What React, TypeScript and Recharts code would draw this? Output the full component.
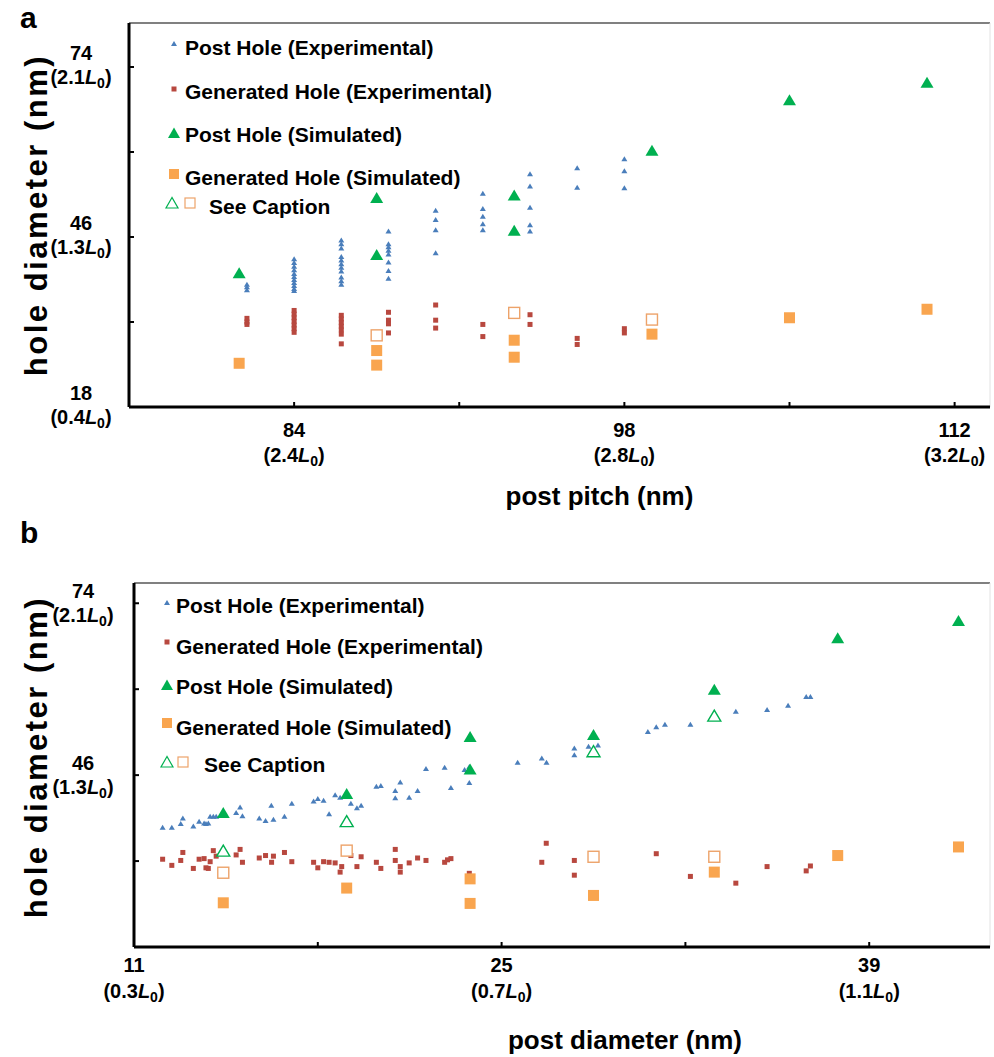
import React from "react";
import { ScatterChart, Scatter, XAxis, YAxis, ReferenceLine, Legend } from "recharts";

const FONT = '"Liberation Sans", Arial, Helvetica, sans-serif';

const SERIES = [
  "Post Hole (Experimental)",
  "Generated Hole (Experimental)",
  "Post Hole (Simulated)",
  "Generated Hole (Simulated)",
  "See Caption",
];

// axis ticks; labelled ones get a second line in units of L0
const pitchTicks = [84, 91, 98, 105, 112];
const pitchL0: Record<number, string> = { 84: "2.4", 98: "2.8", 112: "3.2" };
const postDiamTicks = [11, 18, 25, 32, 39];
const postDiamL0: Record<number, string> = { 11: "0.3", 25: "0.7", 39: "1.1" };
const holeTicks = [18, 32, 46, 60, 74];
const holeL0a: Record<number, string> = { 18: "0.4", 46: "1.3", 74: "2.1" };
const holeL0b: Record<number, string> = { 46: "1.3", 74: "2.1" };

// ---- panel a : post pitch (nm) vs hole diameter (nm)
const aPostExp: [number, number][] = [
  [82, 38.2], [82, 37.8], [82, 37.3],
  [84, 42.4], [84, 41.8], [84, 41.2], [84, 40.6], [84, 40.0], [84, 39.5], [84, 39.0], [84, 38.5], [84, 38.0], [84, 37.5], [84, 37.2],
  [86, 45.5], [86, 44.9], [86, 44.2], [86, 42.8], [86, 42.2], [86, 41.6], [86, 41.0], [86, 40.4], [86, 39.4], [86, 38.8], [86, 38.2],
  [88, 47.0], [88, 44.9], [88, 44.4], [88, 43.8], [88, 43.2], [88, 41.9], [88, 40.5], [88, 39.2],
  [90, 50.4], [90, 48.9], [90, 47.2], [90, 43.4],
  [92, 53.2], [92, 50.7], [92, 49.4], [92, 48.2], [92, 47.2],
  [94, 56.4], [94, 54.4], [94, 50.9], [94, 48.0], [94, 47.0],
  [96, 57.4], [96, 54.2],
  [98, 58.9], [98, 56.9], [98, 54.1],
];
const aGenExp: [number, number][] = [
  [82, 32.6], [82, 32.0], [82, 31.6],
  [84, 33.9], [84, 33.3], [84, 32.7], [84, 32.1], [84, 31.5], [84, 30.9], [84, 30.3],
  [86, 33.1], [86, 32.5], [86, 31.9], [86, 31.3], [86, 30.7], [86, 30.0], [86, 28.4],
  [88, 33.6], [88, 32.3], [88, 31.7], [88, 30.2],
  [90, 34.8], [90, 32.3], [90, 31.0],
  [92, 31.6], [92, 29.6],
  [94, 33.2], [94, 31.6],
  [96, 29.3], [96, 28.3],
  [98, 30.9], [98, 30.2],
];
const aPostSim: [number, number][] = [
  [81.67, 40.1], [87.5, 52.5], [87.5, 43.1], [93.33, 52.9], [93.33, 47.1], [99.17, 60.3], [105, 68.6], [110.83, 71.5],
];
const aGenSim: [number, number][] = [
  [81.67, 25.2], [87.5, 27.3], [87.5, 24.9], [93.33, 29.0], [93.33, 26.2], [99.17, 30.0], [105, 32.7], [110.83, 34.1],
];
const aGenCaption: [number, number][] = [[87.5, 29.8], [93.33, 33.5], [99.17, 32.4]];

// ---- panel b : post diameter (nm) vs hole diameter (nm)
const bPostExp: [number, number][] = [
  [12.09, 37.5], [12.44, 37.5], [12.78, 38.1], [12.86, 39.0], [13.26, 37.7], [13.48, 38.5], [13.67, 38.2], [13.74, 38.1],
  [13.83, 38.2], [13.9, 39.3], [14.02, 39.3], [14.13, 39.3], [14.89, 39.9], [15.04, 40.8], [15.13, 39.4], [15.77, 39.0],
  [16.01, 38.6], [16.31, 38.8], [16.73, 39.3], [16.23, 41.1], [17.01, 41.4], [17.84, 41.8], [18.0, 42.2], [18.22, 41.9],
  [18.43, 39.7], [18.66, 42.8], [18.85, 42.4], [19.26, 41.4], [19.49, 40.7], [19.65, 41.1], [20.23, 44.2], [20.4, 44.3],
  [20.95, 43.5], [21.14, 44.9], [20.95, 42.3], [21.48, 42.4], [21.8, 43.5], [22.12, 47.1], [22.83, 47.3], [23.07, 44.0],
  [23.59, 46.9], [23.77, 44.8], [23.77, 47.4], [25.61, 48.1], [26.53, 48.8], [26.71, 48.1], [27.77, 50.4], [27.77, 49.3],
  [28.31, 50.7], [28.67, 50.9], [30.57, 53.1], [30.89, 53.9], [31.22, 54.3], [32.19, 54.3], [33.92, 56.4], [35.11, 56.7],
  [35.91, 57.4], [36.6, 58.8], [36.76, 58.8],
];
const bGenExp: [number, number][] = [
  [12.09, 32.3], [12.44, 31.3], [12.78, 32.1], [12.86, 33.4], [13.26, 30.8], [13.48, 32.3], [13.67, 32.4], [13.74, 30.9],
  [13.83, 30.8], [13.9, 31.9], [14.02, 33.7], [14.13, 32.8], [14.89, 33.0], [15.04, 33.9], [15.13, 31.8], [15.77, 32.5],
  [16.01, 32.9], [16.24, 31.8], [16.31, 32.8], [16.73, 33.4], [17.01, 31.9], [17.84, 31.8], [18.0, 30.9], [18.22, 31.9],
  [18.43, 31.8], [18.66, 31.7], [18.85, 30.2], [18.91, 31.1], [19.26, 32.9], [19.49, 31.1], [19.65, 32.7], [20.23, 31.8],
  [20.4, 30.8], [20.95, 33.9], [20.95, 32.1], [21.14, 31.1], [21.14, 30.2], [21.48, 31.7], [21.8, 32.5], [22.12, 32.1],
  [22.83, 31.8], [22.94, 32.2], [23.07, 32.4], [23.77, 30.0], [26.53, 31.8], [26.7, 34.9], [27.77, 32.1], [27.77, 29.7],
  [30.89, 33.2], [32.19, 29.5], [33.92, 28.4], [35.11, 31.1], [36.6, 30.4], [36.76, 31.2],
];
const bPostSim: [number, number][] = [
  [14.4, 39.9], [19.1, 43.0], [23.8, 52.3], [23.8, 47.0], [28.5, 52.6], [33.1, 60.0], [37.8, 68.4], [42.4, 71.2],
];
const bGenSim: [number, number][] = [
  [14.4, 25.2], [19.1, 27.6], [23.8, 29.1], [23.8, 25.1], [28.5, 26.4], [33.1, 30.2], [37.8, 32.9], [42.4, 34.3],
];
const bPostCaption: [number, number][] = [[14.4, 33.7], [19.1, 38.5], [28.5, 49.9], [33.1, 55.7]];
const bGenCaption: [number, number][] = [[14.4, 30.1], [19.1, 33.7], [28.5, 32.7], [33.1, 32.7]];

const pts = (arr: [number, number][]) => arr.map(([x, y]) => ({ x, y }));

const BLUE = "#4A7EBB";
const RED = "#B8483F";
const GREEN = "#00B050";
const ORANGE = "#F9A54F";
const ORANGE_LINE = "#EDA36A";

const triangle = (w: number, h: number, fill: string, stroke?: string) => (p: any) => {
  const { cx, cy } = p;
  return (
    <polygon
      points={`${cx},${cy - h / 2} ${cx - w / 2},${cy + h / 2} ${cx + w / 2},${cy + h / 2}`}
      fill={fill}
      stroke={stroke || "none"}
      strokeWidth={stroke ? 1.4 : 0}
    />
  );
};
const square = (s: number, fill: string, stroke?: string) => (p: any) => {
  const { cx, cy } = p;
  return (
    <rect
      x={cx - s / 2}
      y={cy - s / 2}
      width={s}
      height={s}
      fill={fill}
      stroke={stroke || "none"}
      strokeWidth={stroke ? 1.4 : 0}
    />
  );
};

const L0 = ({ v }: { v: string }) => (
  <>
    ({v}
    <tspan fontStyle="italic">L</tspan>
    <tspan fontSize={14} dy={4}>0</tspan>
    <tspan dy={-4}>)</tspan>
  </>
);

const TICK_FS = 20;

const XTick = (labels: Record<number, string>, d1: number, d2: number) => (p: any) => {
  const { x, y, payload } = p;
  const lab = labels[payload.value];
  return (
    <g>
      <line x1={x} x2={x} y1={y} y2={y - 5} stroke="#000" strokeWidth={2} />
      {lab && (
        <text x={x} y={y + d1} textAnchor="middle" fontFamily={FONT} fontWeight="bold" fontSize={TICK_FS} fill="#000">
          {payload.value}
        </text>
      )}
      {lab && (
        <text x={x} y={y + d2} textAnchor="middle" fontFamily={FONT} fontWeight="bold" fontSize={TICK_FS} fill="#000">
          <L0 v={lab} />
        </text>
      )}
    </g>
  );
};

const YTick = (labels: Record<number, string>, dx: number, d1: number, d2: number) => (p: any) => {
  const { x, y, payload } = p;
  const lab = labels[payload.value];
  return (
    <g>
      <line x1={x} x2={x + 5} y1={y} y2={y} stroke="#000" strokeWidth={2} />
      {lab && (
        <text x={x - dx} y={y + d1} textAnchor="middle" fontFamily={FONT} fontWeight="bold" fontSize={TICK_FS} fill="#000">
          {payload.value}
        </text>
      )}
      {lab && (
        <text x={x - dx} y={y + d2} textAnchor="middle" fontFamily={FONT} fontWeight="bold" fontSize={TICK_FS} fill="#000">
          <L0 v={lab} />
        </text>
      )}
    </g>
  );
};

const xTitle = (text: string, dx: number, dy: number) => ({
  content: (p: any) => {
    const vb = p.viewBox;
    return (
      <text x={vb.x + vb.width / 2 + dx} y={vb.y + dy} textAnchor="middle" fontFamily={FONT} fontWeight="bold" fontSize={26} fill="#000">
        {text}
      </text>
    );
  },
});
const yTitle = (text: string, x: number, dy: number) => ({
  content: (p: any) => {
    const vb = p.viewBox;
    const cy = vb.y + vb.height / 2 + dy;
    return (
      <text
        x={x}
        y={cy}
        transform={`rotate(-90 ${x} ${cy})`}
        textAnchor="middle"
        dominantBaseline="central"
        fontFamily={FONT}
        fontWeight="bold"
        fontSize={31}
        letterSpacing={2.5}
        fill="#000"
      >
        {text}
      </text>
    );
  },
});

type Row = { y: number; my: number };
const legendBox = (rows: Row[], mx: number, tx: number, capTri: number, capSq: number, capText: number) => () => {
  const marker = (i: number) => {
    const cy = rows[i].my;
    if (i === 0) return <polygon points={`${mx},${cy - 3} ${mx - 3},${cy + 2} ${mx + 3},${cy + 2}`} fill={BLUE} />;
    if (i === 1) return <rect x={mx - 2.5} y={cy - 2.5} width={5} height={5} fill={RED} />;
    if (i === 2) return <polygon points={`${mx},${cy - 5.5} ${mx - 6},${cy + 5} ${mx + 6},${cy + 5}`} fill={GREEN} />;
    if (i === 3) return <rect x={mx - 5} y={cy - 5} width={10} height={10} fill={ORANGE} />;
    return (
      <g>
        <polygon points={`${capTri},${cy - 5.5} ${capTri - 6},${cy + 5} ${capTri + 6},${cy + 5}`} fill="#fff" stroke={GREEN} strokeWidth={1.2} />
        <rect x={capSq - 5} y={cy - 5} width={10} height={10} fill="#fff" stroke={ORANGE_LINE} strokeWidth={1.2} />
      </g>
    );
  };
  return (
    <div style={{ position: "relative", width: 360, height: 200, fontFamily: FONT, fontWeight: "bold", fontSize: 21, color: "#000" }}>
      <svg width={360} height={200} style={{ position: "absolute", left: 0, top: 0 }}>
        {rows.map((_, i) => (
          <g key={i}>{marker(i)}</g>
        ))}
      </svg>
      {rows.map((r, i) => (
        <div
          key={i}
          style={{ position: "absolute", left: i === 4 ? capText : tx, top: r.y - 12, lineHeight: "24px", whiteSpace: "nowrap" }}
        >
          {SERIES[i]}
        </div>
      ))}
    </div>
  );
};

const axisLine = { stroke: "#000", strokeWidth: 3 };
const panelLetter = { position: "absolute" as const, left: 20, fontFamily: FONT, fontWeight: "bold", fontSize: 30, lineHeight: "30px" };

const App = () => (
  <div style={{ position: "absolute", left: 0, top: 0, width: 994, height: 1057, background: "#fff", overflow: "hidden" }}>
    <div style={{ ...panelLetter, top: 3 }}>a</div>
    <div style={{ ...panelLetter, top: 518 }}>b</div>

    <div style={{ position: "absolute", left: 0, top: 0 }}>
      <ScatterChart width={994} height={520} margin={{ top: 23, right: 4, bottom: 0, left: 0 }}>
        <XAxis
          type="number"
          dataKey="x"
          domain={[77, 113.5]}
          ticks={pitchTicks}
          interval={0}
          allowDataOverflow
          height={113}
          tickSize={0}
          tickMargin={0}
          axisLine={axisLine}
          tickLine={false}
          tick={XTick(pitchL0, 30, 55)}
          label={xTitle("post pitch (nm)", 40, 98)}
        />
        <YAxis
          type="number"
          dataKey="y"
          domain={[18, 81.25]}
          ticks={holeTicks}
          interval={0}
          allowDataOverflow
          width={129}
          tickSize={0}
          tickMargin={0}
          axisLine={axisLine}
          tickLine={false}
          tick={YTick(holeL0a, 48, -7, 17)}
          label={yTitle("hole diameter (nm)", 36, 0)}
        />
        <ReferenceLine y={81.25} stroke="#808080" strokeWidth={2} />
        <ReferenceLine x={113.5} stroke="#e2e2e2" strokeWidth={1} />
        <Legend
          layout="vertical"
          align="center"
          verticalAlign="middle"
          wrapperStyle={{ left: 160, top: 30, width: 360, height: 200 }}
          content={legendBox(
            [{ y: 18, my: 14 }, { y: 62, my: 59 }, { y: 105, my: 103 }, { y: 148, my: 144 }, { y: 177, my: 173 }],
            14, 25, 12, 30, 49
          )}
        />
        <Scatter name={SERIES[0]} data={pts(aPostExp)} shape={triangle(6, 5, BLUE)} isAnimationActive={false} />
        <Scatter name={SERIES[1]} data={pts(aGenExp)} shape={square(5, RED)} isAnimationActive={false} />
        <Scatter name={SERIES[2]} data={pts(aPostSim)} shape={triangle(13, 11, GREEN)} isAnimationActive={false} />
        <Scatter name={SERIES[3]} data={pts(aGenSim)} shape={square(11, ORANGE)} isAnimationActive={false} />
        <Scatter name={SERIES[4]} data={pts(aGenCaption)} shape={square(11, "#fff", ORANGE_LINE)} isAnimationActive={false} />
      </ScatterChart>
    </div>

    <div style={{ position: "absolute", left: 0, top: 520 }}>
      <ScatterChart width={994} height={537} margin={{ top: 63, right: 4, bottom: 0, left: 0 }}>
        <XAxis
          type="number"
          dataKey="x"
          domain={[11, 43.6]}
          ticks={postDiamTicks}
          interval={0}
          allowDataOverflow
          height={110}
          tickSize={0}
          tickMargin={0}
          axisLine={axisLine}
          tickLine={false}
          tick={XTick(postDiamL0, 25, 51)}
          label={xTitle("post diameter (nm)", 63, 102)}
        />
        <YAxis
          type="number"
          dataKey="y"
          domain={[18, 77.3]}
          ticks={holeTicks}
          interval={0}
          allowDataOverflow
          width={134}
          tickSize={0}
          tickMargin={0}
          axisLine={axisLine}
          tickLine={false}
          tick={YTick(holeL0b, 51, -5, 19)}
          label={yTitle("hole diameter (nm)", 36, -8)}
        />
        <ReferenceLine y={77.3} stroke="#808080" strokeWidth={2} />
        <ReferenceLine x={43.6} stroke="#e2e2e2" strokeWidth={1} />
        <Legend
          layout="vertical"
          align="center"
          verticalAlign="middle"
          wrapperStyle={{ left: 150, top: 60, width: 360, height: 200 }}
          content={legendBox(
            [{ y: 26, my: 23 }, { y: 67, my: 62 }, { y: 107, my: 105 }, { y: 148, my: 143 }, { y: 185, my: 182 }],
            17, 26, 17, 33, 54
          )}
        />
        <Scatter name={SERIES[0]} data={pts(bPostExp)} shape={triangle(6, 5, BLUE)} isAnimationActive={false} />
        <Scatter name={SERIES[1]} data={pts(bGenExp)} shape={square(5, RED)} isAnimationActive={false} />
        <Scatter name={SERIES[2]} data={pts(bPostSim)} shape={triangle(13, 11, GREEN)} isAnimationActive={false} />
        <Scatter name={SERIES[3]} data={pts(bGenSim)} shape={square(11, ORANGE)} isAnimationActive={false} />
        <Scatter name={SERIES[4]} data={pts(bPostCaption)} shape={triangle(13, 11, "#fff", GREEN)} isAnimationActive={false} />
        <Scatter name="See Caption (generated)" data={pts(bGenCaption)} shape={square(11, "#fff", ORANGE_LINE)} isAnimationActive={false} />
      </ScatterChart>
    </div>
  </div>
);

export default App;
